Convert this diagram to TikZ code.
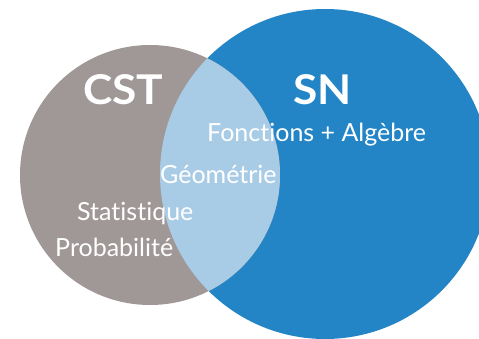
\documentclass[tikz,border=0pt]{standalone}
\usepackage{fontspec}
\setmainfont{Lato}[Ligatures={NoCommon,NoDiscretionary,NoContextual}]
\definecolor{cstgrey}{HTML}{A09797}
\definecolor{snblue}{HTML}{2385C6}
\definecolor{lensblue}{HTML}{A9CCE6}
\tikzset{
  lbl/.style={anchor=base west, inner sep=0pt, text=white, font=\fontsize{25}{25}\selectfont},
  title/.style={anchor=base west, inner sep=0pt, text=white, font=\bfseries\fontsize{41}{41}\selectfont},
}
\begin{document}
\begin{tikzpicture}[x=1pt,y=-1pt]
\useasboundingbox (0,0) rectangle (479,339);
\begin{scope}
\clip (0,0) rectangle (479,339);
\fill[snblue] (325,174) circle[radius=165];
\fill[cstgrey] (150,175) circle[radius=130];
\begin{scope}
\clip (150,175) circle[radius=130];
\fill[lensblue] (325,174) circle[radius=165];
\end{scope}
\end{scope}
\node[title] (cst) at (83,105) {\scalebox{1.08}[1]{CST}};
\node[title] (sn) at (293,105) {\scalebox{1.08}[1]{SN}};
\node[lbl] (fa) at (207,142) {Fonctions + Algèbre};
\node[lbl] (geo) at (160,184) {Géométrie};
\node[lbl] (stat) at (77,220) {Statistique};
\node[lbl] (prob) at (55,256) {Probabilité};
\end{tikzpicture}
\end{document}
